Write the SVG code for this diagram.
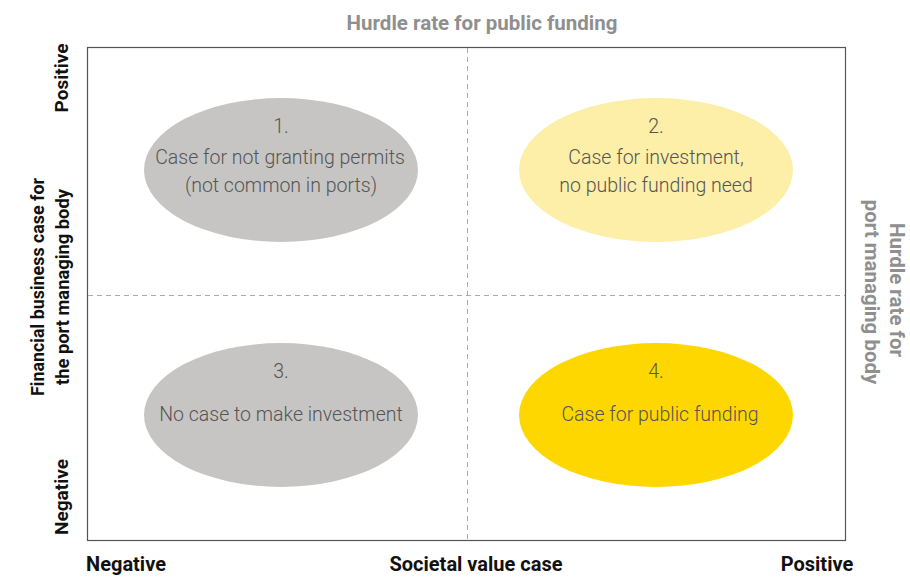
<svg xmlns="http://www.w3.org/2000/svg" width="910" height="577" viewBox="0 0 910 577">
<style>
.ax{font-family:"Roboto","Liberation Sans",sans-serif;font-weight:bold;font-size:19px;fill:#111;text-anchor:middle}
.bx{font-family:"Roboto","Liberation Sans",sans-serif;font-weight:bold;font-size:20px;fill:#111;text-anchor:middle}
.hr{font-family:"Roboto","Liberation Sans",sans-serif;font-weight:bold;font-size:20.5px;fill:#8f8f8f;text-anchor:middle}
.lb{font-family:"Roboto","Liberation Sans",sans-serif;font-weight:300;font-size:19.5px;fill:#555;text-anchor:middle}
.dash{stroke:#aaa;stroke-width:1;stroke-dasharray:5,4;fill:none}
</style>
<rect width="910" height="577" fill="#fff"/>
<g id="frame">
<rect x="87.5" y="47.5" width="758" height="493" fill="none" stroke="#555" stroke-width="1.2"/>
</g>
<g id="connectors">
<line class="dash" x1="467.5" y1="48" x2="467.5" y2="540"/>
<line class="dash" x1="88" y1="295.5" x2="845" y2="295.5"/>
</g>
<g id="node1">
<ellipse cx="281" cy="170" rx="137" ry="72" fill="#c6c5c3"/>
<text class="lb" x="281" y="133">1.</text>
<text class="lb" x="280" y="164">Case for not granting permits</text>
<text class="lb" x="281" y="192">(not common in ports)</text>
</g>
<g id="node2">
<ellipse cx="656" cy="170" rx="137" ry="72" fill="#fdeea8"/>
<text class="lb" x="656" y="133">2.</text>
<text class="lb" x="656" y="164">Case for investment,</text>
<text class="lb" x="656" y="192">no public funding need</text>
</g>
<g id="node3">
<ellipse cx="281" cy="415" rx="137" ry="72" fill="#c6c5c3"/>
<text class="lb" x="281" y="378">3.</text>
<text class="lb" x="281" y="421">No case to make investment</text>
</g>
<g id="node4">
<ellipse cx="656" cy="415" rx="137" ry="72" fill="#ffd700"/>
<text class="lb" x="656" y="378">4.</text>
<text class="lb" x="660" y="421">Case for public funding</text>
</g>
<g id="labels">
<text class="hr" x="482" y="30">Hurdle rate for public funding</text>
<text class="hr" transform="translate(890,290) rotate(90)" x="0" y="0">Hurdle rate for</text>
<text class="hr" transform="translate(865,292) rotate(90)" x="0" y="0">port managing body</text>
<text class="ax" transform="translate(44,287) rotate(-90)" x="0" y="0" textLength="218" lengthAdjust="spacingAndGlyphs">Financial business case for</text>
<text class="ax" transform="translate(69,287) rotate(-90)" x="0" y="0" textLength="196" lengthAdjust="spacingAndGlyphs">the port managing body</text>
<text class="ax" transform="translate(68,78) rotate(-90)" x="0" y="0">Positive</text>
<text class="ax" transform="translate(68,497) rotate(-90)" x="0" y="0">Negative</text>
<text class="bx" x="126" y="571">Negative</text>
<text class="bx" x="476" y="571">Societal value case</text>
<text class="bx" x="817" y="571">Positive</text>
</g>
</svg>
